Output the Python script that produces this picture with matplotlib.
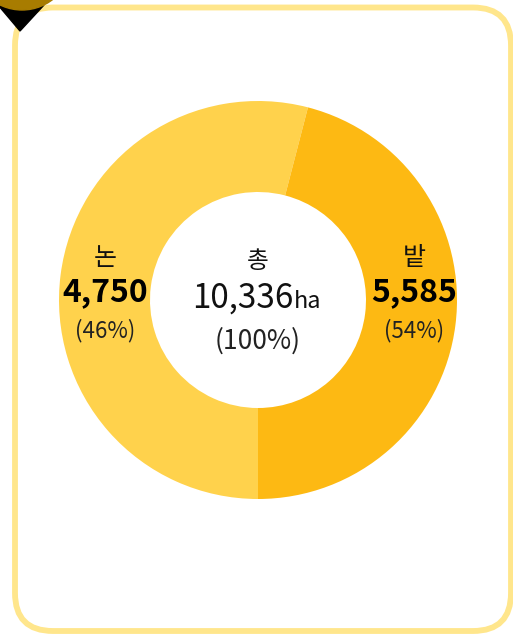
import matplotlib.pyplot as plt
from matplotlib.patches import FancyBboxPatch, Circle, Polygon

plt.rcParams['font.family'] = ['Noto Sans CJK KR', 'DejaVu Sans']

names = ['논', '밭']
areas = [4750, 5585]
shares = ['(46%)', '(54%)']
total_label = '총'
total_value = '10,336'
total_unit = 'ha'
total_share = '(100%)'

# ring as drawn in the picture: light part first from the bottom, clockwise
ring_sizes = [5585, 4750]
ring_colors = ['#FFD24C', '#FDB913']

W, H = 513, 634
fig = plt.figure(figsize=(W / 100, H / 100), dpi=100)
ax = fig.add_axes([0, 0, 1, 1])

cx, cy = 258, H - 300
ax.pie(ring_sizes, colors=ring_colors, startangle=270, counterclock=False,
       radius=199, center=(cx, cy), wedgeprops=dict(width=91, linewidth=0))

# card border
ax.add_patch(FancyBboxPatch((15, 3), 496, H - 10.5, boxstyle='round,pad=0,rounding_size=38',
                            fill=False, edgecolor='#FFE68C', linewidth=4.2))
# corner marker
ax.add_patch(Polygon([(-2, H - 5), (44, H - 5), (20, H - 31)], closed=True, color='black'))
ax.add_patch(Circle((22, H + 40), 50, color='#A87C00'))

for x, n, a, s in zip([105, 414], names, areas, shares):
    ax.text(x, H - 258, n, ha='center', va='center', fontsize=18, color='#111')
    ax.text(x, H - 292, f'{a:,}', ha='center', va='center', fontsize=23,
            fontweight='bold', color='black')
    ax.text(x, H - 331, s, ha='center', va='center', fontsize=16, color='#222')

ax.text(cx, H - 261, total_label, ha='center', va='center', fontsize=17, color='#111')
ax.text(cx + 35, H - 298, total_value, ha='right', va='center', fontsize=24, color='#111')
ax.text(cx + 36, H - 301, total_unit, ha='left', va='center', fontsize=17, color='#111')
ax.text(cx, H - 341, total_share, ha='center', va='center', fontsize=19, color='#222')

ax.set_xlim(0, W)
ax.set_ylim(0, H)
ax.set_aspect('equal')
ax.axis('off')
fig.savefig('out.png', dpi=100)
